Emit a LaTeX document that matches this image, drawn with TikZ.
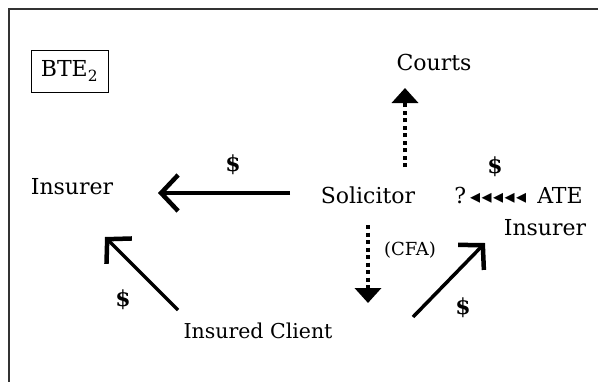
\documentclass[tikz,border=0pt]{standalone}
\usepackage{fontspec}
\setmainfont{DejaVu Serif}
\newfontfamily\symfont{DejaVu Sans}
\usetikzlibrary{arrows.meta,calc}
\begin{document}
\begin{tikzpicture}[x=1pt,y=-1pt,
  lbl/.style={font=\fontsize{22}{26}\selectfont, inner sep=0pt},
  small/.style={font=\fontsize{18}{21}\selectfont, inner sep=0pt},
  money/.style={font=\fontsize{22}{26}\selectfont\bfseries, inner sep=0pt},
  solidarrow/.style={line width=3.5pt, -{Straight Barb[length=17pt,width=36pt,line width=4.5pt]}},
  dotarrow/.style={line width=4pt, dash pattern=on 4pt off 3.5pt, -{Triangle[length=15pt,width=26pt]}},
]
\useasboundingbox (0,0) rectangle (598,381);
\draw[line width=1.5pt, black!80] (9,400) -- (9,9) -- (620,9);
\node[draw, line width=1pt, minimum width=77pt, minimum height=42pt, inner sep=0pt,
      font=\fontsize{22}{26}\selectfont] (bte) at (69.5,71) {BTE\textsubscript{2}};
\node[lbl] (insL) at (72,187) {Insurer};
\node[lbl] (sol) at (368,195) {Solicitor};
\node[lbl] (courts) at (434,62) {Courts};
\node[lbl] (ate) at (518.5,195) {?\kern4pt{\symfont\fontsize{20}{22}\selectfont ◂\kern1.5pt◂\kern1.5pt◂\kern1.5pt◂\kern1.5pt◂}\kern11pt ATE};
\node[lbl] (ateins) at (545,228) {Insurer};
\node[lbl, font=\fontsize{20.5}{24}\selectfont] (client) at (258,331) {Insured Client};
\node[small] (cfa) at (410,250) {(CFA)};
\node[money] (d1) at (233,165) {\$};
\node[money] (d2) at (495,167) {\$};
\node[money] (d3) at (123,300) {\$};
\node[money] (d4) at (463,308) {\$};
\draw[solidarrow] ($(sol)+(-78,-2)$) -- ($(insL)+(86,6)$);
\draw[dotarrow] ($(sol)+(37,-28)$) -- ($(courts)+(-29,26)$);
\draw[dotarrow] ($(sol)+(0,30)$) -- ($(client)+(110,-28)$);
\draw[solidarrow] ($(client)+(-80,-21)$) -- ($(insL)+(33,50)$);
\draw[solidarrow] ($(client)+(155,-14)$) -- ($(ateins)+(-60,15)$);
\end{tikzpicture}
\end{document}
